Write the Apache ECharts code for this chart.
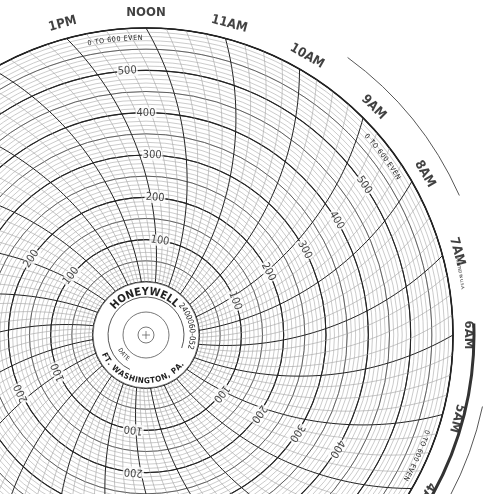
<!DOCTYPE html>
<html><head><meta charset="utf-8">
<script src="https://cdn.jsdelivr.net/npm/echarts@6/dist/echarts.min.js"></script>
<style>html,body{margin:0;padding:0;background:#fff}#c{width:500px;height:494px}</style>
</head><body><div id="c"></div>
<script>
// ---- data ----
const hourNames = ['NOON','1PM','2PM','3PM','4PM','5PM','6PM','7PM','8PM','9PM','10PM','11PM',
  'MIDNIGHT','1AM','2AM','3AM','4AM','5AM','6AM','7AM','8AM','9AM','10AM','11AM'];
const hourValues = [0,1,2,3,4,5,6,7,8,9,10,11,12,13,14,15,16,17,18,19,20,21,22,23];
const scaleMin = 0, scaleMax = 600;
// value labels: [value, hour position]
const labelsTop = [[100,-0.56],[200,-0.25],[300,-0.13],[400,0],[500,0.27]];
const labelsRight = [[100,-4.6],[200,-4.18],[300,-4.12],[400,-3.93],[500,-3.7]];
const labelsLeft = [[100,3.45],[200,3.76]];
const labelsLowLeft = [[100,7.53],[200,7.67]];
const labelsBottom = [[100,11.49],[200,11.65]];
const labelsLowRight = [[100,15.47],[200,15.67],[300,15.8],[400,15.95]];

// ---- geometry (layout only) ----
const CX = 146, CY = 335, R0 = 53, R1 = 307;
const K = (R1 - R0) / scaleMax;
const hourLabelValue = (322 - R0) / K;

function timeLine(h) {
  const pts = [];
  for (let v = scaleMin; v <= scaleMax; v += 10) {
    const r = R0 + v * K;
    const off = (Math.acos(r / (2 * R1)) * 180 / Math.PI - 60) / 15;
    pts.push([v, h - off]);
  }
  return pts;
}
const minorData = [], majorData = [];
for (let q = 0; q < 96; q++) {
  const h = q / 4;
  const target = (q % 4 === 0) ? majorData : minorData;
  timeLine(h).forEach(p => target.push(p));
  target.push('-');
}

function rot(h) { let a = h * 15; a = ((a % 360) + 360) % 360; if (a > 180) a -= 360; return a; }
const allValLabels = [].concat(labelsTop, labelsRight, labelsLeft, labelsLowLeft, labelsBottom, labelsLowRight);
const valLabelData = allValLabels.map(d => ({ value: [d[0], d[1]], label: { rotate: rot(d[1]) } }));
const hourLabelData = hourValues.map((h, i) => ({ value: [hourLabelValue, h], name: hourNames[i], label: { rotate: rot(h) } }));

const mctx = document.createElement('canvas').getContext('2d');
function arcText(str, r, phiC, size, weight, dir, family, spacing) {
  const font = (weight || 'normal') + ' ' + size + 'px ' + family;
  mctx.font = font;
  const sp = spacing || 0;
  const widths = [...str].map(ch => mctx.measureText(ch).width + sp);
  const total = widths.reduce((a, b) => a + b, 0);
  let acc = 0; const out = [];
  [...str].forEach((ch, i) => {
    const mid = acc + widths[i] / 2; acc += widths[i];
    const dphi = (total / 2 - mid) / r * 180 / Math.PI;
    const phi = dir > 0 ? phiC + dphi : phiC - dphi;
    const pr = phi * Math.PI / 180;
    const rotDeg = dir > 0 ? phi - 90 : phi + 90;
    out.push({ type: 'text', x: CX + r * Math.cos(pr), y: CY - r * Math.sin(pr), rotation: rotDeg * Math.PI / 180, z: 200,
      style: { text: ch, font: font, fill: '#222', align: 'center', verticalAlign: 'middle' } });
  });
  return out;
}
function arcShape(r, phiA, phiB, w, color) {
  return { type: 'arc', z: 150, shape: { cx: CX, cy: CY, r: r, startAngle: -phiA * Math.PI / 180, endAngle: -phiB * Math.PI / 180 },
    style: { stroke: color || '#333', lineWidth: w, fill: null } };
}
const FN = '"DejaVu Sans Condensed","Liberation Sans Narrow",sans-serif';
const graphics = [
  { type: 'circle', z: 150, shape: { cx: CX, cy: CY, r: R0 }, style: { fill: '#fff', stroke: '#555', lineWidth: 0.8 } },
  { type: 'circle', z: 160, shape: { cx: CX, cy: CY, r: 23 }, style: { fill: null, stroke: '#555', lineWidth: 0.8 } },
  { type: 'circle', z: 160, shape: { cx: CX, cy: CY, r: 8 }, style: { fill: null, stroke: '#555', lineWidth: 0.8 } },
  { type: 'line', z: 160, shape: { x1: CX - 4, y1: CY, x2: CX + 4, y2: CY }, style: { stroke: '#555', lineWidth: 0.7 } },
  { type: 'line', z: 160, shape: { x1: CX, y1: CY - 4, x2: CX, y2: CY + 4 }, style: { stroke: '#555', lineWidth: 0.7 } },
  arcShape(38, 245, 340, 0.9, '#444'),
  arcShape(328, 2, -30, 3, '#333'),
  arcShape(343, 54, 24, 0.9, '#444'),
  arcShape(344, -12, -28, 0.9, '#444')
].concat(
  arcText('HONEYWELL', 43, 92, 11, 'bold', 1, FN, 0.5),
  arcText('2400060-052', 46, 12, 8, 'normal', 1, FN, 0),
  arcText('FT. WASHINGTON, PA.', 46, 263, 8, 'bold', -1, FN, 0.3),
  arcText('DATE', 30, 221, 6, 'normal', -1, FN, 0),
  arcText('0 TO 600 EVEN', 297, 96, 7, 'normal', 1, FN, 0.6),
  arcText('0 TO 600 EVEN', 297, 37, 7, 'normal', 1, FN, 0.6),
  arcText('0 TO 600 EVEN', 297, -24, 7, 'normal', 1, FN, 0.6),
  arcText('PRINTED IN U.S.A.', 320, 11, 4, 'normal', 1, FN, 0)
);

function polarAxes(i, interval, color, width, maxV) {
  return {
    r: { polarIndex: i, type: 'value', min: scaleMin, max: maxV, interval: interval,
      axisLine: { show: false }, axisTick: { show: false }, axisLabel: { show: false },
      splitLine: { show: interval > 0, lineStyle: { color: color, width: width } } },
    a: { polarIndex: i, type: 'value', min: 0, max: 24, startAngle: 90, clockwise: false,
      axisLine: { show: i === 2, lineStyle: { color: '#222', width: 1.6 } }, axisTick: { show: false },
      axisLabel: { show: false }, splitLine: { show: false } }
  };
}
const ax = [polarAxes(0, 10, '#a8a8a8', 0.6, scaleMax), polarAxes(1, 50, '#555', 0.9, scaleMax),
  polarAxes(2, 100, '#222', 1.1, scaleMax), polarAxes(3, 0, '#000', 0, (345 - R0) / K)];

const chart = echarts.init(document.getElementById('c'));
chart.setOption({
  animation: false,
  polar: [0, 1, 2].map(() => ({ center: [CX, CY], radius: [R0, R1] })).concat([{ center: [CX, CY], radius: [R0, 345] }]),
  radiusAxis: ax.map(a => a.r),
  angleAxis: ax.map(a => a.a),
  series: [
    { type: 'line', coordinateSystem: 'polar', polarIndex: 0, data: minorData, symbol: 'none', clip: false,
      lineStyle: { color: '#a0a0a0', width: 0.6 }, z: 3 },
    { type: 'line', coordinateSystem: 'polar', polarIndex: 0, data: majorData, symbol: 'none', clip: false,
      lineStyle: { color: '#222', width: 1 }, z: 4 },
    { type: 'scatter', coordinateSystem: 'polar', polarIndex: 3, data: valLabelData, symbolSize: 0, z: 10,
      label: { show: true, position: 'inside', formatter: p => String(p.value[0]), color: '#111', fontSize: 11,
        fontFamily: FN, backgroundColor: '#fff', padding: [0, 1] } },
    { type: 'scatter', coordinateSystem: 'polar', polarIndex: 3, data: hourLabelData, symbolSize: 0, z: 10,
      label: { show: true, position: 'inside', formatter: p => p.name, color: '#111', fontSize: 13, fontWeight: 'bold',
        fontFamily: FN } }
  ],
  graphic: graphics
});
</script></body></html>
